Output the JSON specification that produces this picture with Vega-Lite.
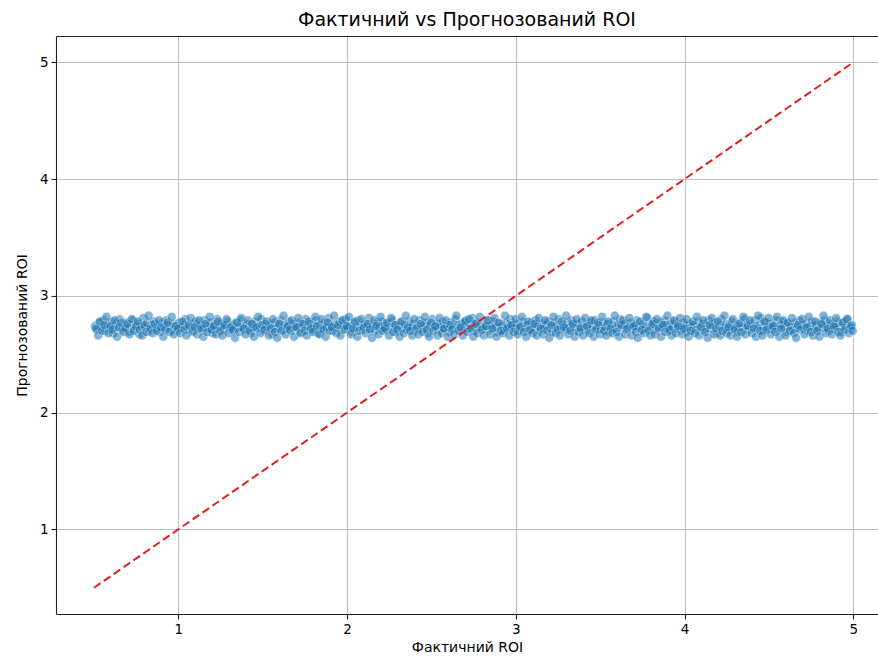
{
"$schema": "https://vega.github.io/schema/vega-lite/v6.json",
"width": 822, "height": 578,
"autosize": {"type": "none"},
"padding": {"left": 56, "top": 36, "right": 0, "bottom": 45},
"background": "white",
"title": {"text": "Фактичний vs Прогнозований ROI", "font": "DejaVu Sans", "fontSize": 19, "fontWeight": "normal", "color": "black", "offset": 6, "anchor": "middle"},
"config": {
  "view": {"stroke": null},
  "axis": {"labelFont": "DejaVu Sans", "titleFont": "DejaVu Sans", "labelFontSize": 13.5, "titleFontSize": 14, "titleFontWeight": "normal", "labelColor": "black", "titleColor": "black", "domainColor": "#222222", "domainWidth": 1.1, "tickColor": "#222222", "tickSize": 5, "tickWidth": 1.1, "gridColor": "#b8b8b8", "gridWidth": 0.9, "labelPadding": 3}
},
"datasets": {"pts": [
{"x":0.505,"y":2.74},{"x":0.518,"y":2.71},{"x":0.531,"y":2.77},{"x":0.540,"y":2.73},{"x":0.556,"y":2.79},{"x":0.568,"y":2.70},{"x":0.579,"y":2.75},{"x":0.594,"y":2.72},{"x":0.607,"y":2.78},{"x":0.615,"y":2.68},
{"x":0.630,"y":2.76},{"x":0.644,"y":2.73},{"x":0.652,"y":2.80},{"x":0.669,"y":2.71},{"x":0.681,"y":2.75},{"x":0.690,"y":2.77},{"x":0.706,"y":2.69},{"x":0.718,"y":2.74},{"x":0.731,"y":2.79},{"x":0.740,"y":2.72},
{"x":0.757,"y":2.76},{"x":0.769,"y":2.67},{"x":0.778,"y":2.74},{"x":0.793,"y":2.81},{"x":0.806,"y":2.73},{"x":0.815,"y":2.77},{"x":0.830,"y":2.70},{"x":0.842,"y":2.75},{"x":0.855,"y":2.78},{"x":0.867,"y":2.72},
{"x":0.879,"y":2.74},{"x":0.891,"y":2.69},{"x":0.905,"y":2.77},{"x":0.917,"y":2.73},{"x":0.929,"y":2.79},{"x":0.940,"y":2.75},{"x":0.956,"y":2.71},{"x":0.968,"y":2.76},{"x":0.977,"y":2.74},{"x":0.993,"y":2.70},
{"x":1.005,"y":2.77},{"x":1.018,"y":2.73},{"x":1.030,"y":2.75},{"x":1.042,"y":2.80},{"x":1.055,"y":2.72},{"x":1.066,"y":2.74},{"x":1.081,"y":2.69},{"x":1.093,"y":2.76},{"x":1.104,"y":2.78},{"x":1.117,"y":2.73},
{"x":1.130,"y":2.75},{"x":1.141,"y":2.71},{"x":1.156,"y":2.79},{"x":1.168,"y":2.74},{"x":1.179,"y":2.72},{"x":1.193,"y":2.77},{"x":1.204,"y":2.68},{"x":1.216,"y":2.75},{"x":1.230,"y":2.80},{"x":1.242,"y":2.73},
{"x":1.255,"y":2.76},{"x":1.267,"y":2.71},{"x":1.278,"y":2.74},{"x":1.292,"y":2.78},{"x":1.305,"y":2.72},{"x":1.317,"y":2.75},{"x":1.329,"y":2.70},{"x":1.341,"y":2.77},{"x":1.356,"y":2.73},{"x":1.368,"y":2.79},
{"x":1.380,"y":2.74},{"x":1.391,"y":2.71},{"x":1.405,"y":2.76},{"x":1.418,"y":2.73},{"x":1.430,"y":2.68},{"x":1.443,"y":2.75},{"x":1.455,"y":2.78},{"x":1.466,"y":2.72},{"x":1.480,"y":2.74},{"x":1.492,"y":2.80},
{"x":1.505,"y":2.70},{"x":1.517,"y":2.76},{"x":1.529,"y":2.73},{"x":1.541,"y":2.75},{"x":1.556,"y":2.67},{"x":1.568,"y":2.77},{"x":1.579,"y":2.72},{"x":1.593,"y":2.74},{"x":1.606,"y":2.79},{"x":1.618,"y":2.71},
{"x":1.630,"y":2.75},{"x":1.642,"y":2.73},{"x":1.655,"y":2.78},{"x":1.667,"y":2.70},{"x":1.680,"y":2.76},{"x":1.691,"y":2.74},{"x":1.705,"y":2.72},{"x":1.718,"y":2.77},{"x":1.729,"y":2.69},{"x":1.743,"y":2.75},
{"x":1.755,"y":2.80},{"x":1.766,"y":2.73},{"x":1.780,"y":2.76},{"x":1.792,"y":2.71},{"x":1.805,"y":2.74},{"x":1.817,"y":2.79},{"x":1.830,"y":2.68},{"x":1.842,"y":2.75},{"x":1.855,"y":2.72},{"x":1.867,"y":2.77},
{"x":1.879,"y":2.73},{"x":1.891,"y":2.81},{"x":1.905,"y":2.74},{"x":1.917,"y":2.70},{"x":1.929,"y":2.76},{"x":1.942,"y":2.73},{"x":1.955,"y":2.78},{"x":1.967,"y":2.71},{"x":1.980,"y":2.75},{"x":1.991,"y":2.80},
{"x":2.005,"y":2.72},{"x":2.018,"y":2.74},{"x":2.030,"y":2.69},{"x":2.042,"y":2.77},{"x":2.055,"y":2.73},{"x":2.067,"y":2.79},{"x":2.080,"y":2.75},{"x":2.093,"y":2.71},{"x":2.104,"y":2.76},{"x":2.117,"y":2.74},
{"x":2.130,"y":2.81},{"x":2.142,"y":2.72},{"x":2.155,"y":2.75},{"x":2.166,"y":2.70},{"x":2.180,"y":2.77},{"x":2.192,"y":2.73},{"x":2.205,"y":2.78},{"x":2.217,"y":2.74},{"x":2.230,"y":2.71},{"x":2.242,"y":2.76},
{"x":2.255,"y":2.72},{"x":2.267,"y":2.79},{"x":2.280,"y":2.75},{"x":2.292,"y":2.69},{"x":2.305,"y":2.74},{"x":2.317,"y":2.77},{"x":2.330,"y":2.72},{"x":2.342,"y":2.75},{"x":2.355,"y":2.71},{"x":2.367,"y":2.78},
{"x":2.380,"y":2.73},{"x":2.391,"y":2.76},{"x":2.405,"y":2.70},{"x":2.418,"y":2.74},{"x":2.430,"y":2.79},{"x":2.442,"y":2.72},{"x":2.455,"y":2.75},{"x":2.467,"y":2.77},{"x":2.480,"y":2.68},{"x":2.492,"y":2.74},
{"x":2.505,"y":2.80},{"x":2.517,"y":2.73},{"x":2.530,"y":2.76},{"x":2.542,"y":2.71},{"x":2.555,"y":2.75},{"x":2.567,"y":2.78},{"x":2.580,"y":2.72},{"x":2.592,"y":2.74},{"x":2.605,"y":2.69},{"x":2.617,"y":2.77},
{"x":2.630,"y":2.73},{"x":2.642,"y":2.80},{"x":2.655,"y":2.75},{"x":2.667,"y":2.71},{"x":2.680,"y":2.76},{"x":2.692,"y":2.74},{"x":2.705,"y":2.79},{"x":2.717,"y":2.72},{"x":2.730,"y":2.75},{"x":2.742,"y":2.81},
{"x":2.755,"y":2.70},{"x":2.767,"y":2.77},{"x":2.780,"y":2.73},{"x":2.792,"y":2.76},{"x":2.805,"y":2.72},{"x":2.817,"y":2.74},{"x":2.830,"y":2.79},{"x":2.842,"y":2.71},{"x":2.855,"y":2.75},{"x":2.867,"y":2.78},
{"x":2.880,"y":2.73},{"x":2.892,"y":2.69},{"x":2.905,"y":2.76},{"x":2.917,"y":2.74},{"x":2.930,"y":2.71},{"x":2.942,"y":2.77},{"x":2.955,"y":2.73},{"x":2.967,"y":2.80},{"x":2.980,"y":2.75},{"x":2.992,"y":2.72},
{"x":3.005,"y":2.76},{"x":3.017,"y":2.70},{"x":3.030,"y":2.74},{"x":3.042,"y":2.78},{"x":3.055,"y":2.72},{"x":3.067,"y":2.75},{"x":3.080,"y":2.71},{"x":3.092,"y":2.77},{"x":3.105,"y":2.73},{"x":3.117,"y":2.79},
{"x":3.130,"y":2.74},{"x":3.142,"y":2.70},{"x":3.155,"y":2.76},{"x":3.167,"y":2.72},{"x":3.180,"y":2.75},{"x":3.192,"y":2.78},{"x":3.205,"y":2.73},{"x":3.217,"y":2.69},{"x":3.230,"y":2.77},{"x":3.242,"y":2.74},
{"x":3.255,"y":2.80},{"x":3.267,"y":2.72},{"x":3.280,"y":2.75},{"x":3.292,"y":2.71},{"x":3.305,"y":2.77},{"x":3.317,"y":2.73},{"x":3.330,"y":2.79},{"x":3.342,"y":2.74},{"x":3.355,"y":2.71},{"x":3.367,"y":2.76},
{"x":3.380,"y":2.73},{"x":3.392,"y":2.78},{"x":3.405,"y":2.72},{"x":3.417,"y":2.75},{"x":3.430,"y":2.70},{"x":3.442,"y":2.77},{"x":3.455,"y":2.74},{"x":3.467,"y":2.79},{"x":3.480,"y":2.72},{"x":3.492,"y":2.75},
{"x":3.505,"y":2.71},{"x":3.517,"y":2.77},{"x":3.530,"y":2.73},{"x":3.542,"y":2.76},{"x":3.555,"y":2.69},{"x":3.567,"y":2.74},{"x":3.580,"y":2.78},{"x":3.592,"y":2.72},{"x":3.605,"y":2.75},{"x":3.617,"y":2.80},
{"x":3.630,"y":2.73},{"x":3.642,"y":2.76},{"x":3.655,"y":2.71},{"x":3.667,"y":2.74},{"x":3.680,"y":2.77},{"x":3.692,"y":2.72},{"x":3.705,"y":2.75},{"x":3.717,"y":2.79},{"x":3.730,"y":2.73},{"x":3.742,"y":2.70},
{"x":3.755,"y":2.76},{"x":3.767,"y":2.74},{"x":3.780,"y":2.81},{"x":3.792,"y":2.72},{"x":3.805,"y":2.75},{"x":3.817,"y":2.78},{"x":3.830,"y":2.71},{"x":3.842,"y":2.74},{"x":3.855,"y":2.77},{"x":3.867,"y":2.73},
{"x":3.880,"y":2.79},{"x":3.892,"y":2.75},{"x":3.905,"y":2.70},{"x":3.917,"y":2.76},{"x":3.930,"y":2.73},{"x":3.942,"y":2.78},{"x":3.955,"y":2.72},{"x":3.967,"y":2.75},{"x":3.980,"y":2.71},{"x":3.992,"y":2.77},
{"x":4.005,"y":2.74},{"x":4.017,"y":2.69},{"x":4.030,"y":2.76},{"x":4.042,"y":2.73},{"x":4.055,"y":2.75},{"x":4.067,"y":2.71},{"x":4.080,"y":2.78},{"x":4.092,"y":2.73},{"x":4.105,"y":2.76},{"x":4.117,"y":2.70},
{"x":4.130,"y":2.74},{"x":4.142,"y":2.79},{"x":4.155,"y":2.72},{"x":4.167,"y":2.75},{"x":4.180,"y":2.77},{"x":4.192,"y":2.68},{"x":4.205,"y":2.74},{"x":4.217,"y":2.80},{"x":4.230,"y":2.73},{"x":4.242,"y":2.76},
{"x":4.255,"y":2.71},{"x":4.267,"y":2.75},{"x":4.280,"y":2.78},{"x":4.292,"y":2.72},{"x":4.305,"y":2.74},{"x":4.317,"y":2.69},{"x":4.330,"y":2.77},{"x":4.342,"y":2.73},{"x":4.355,"y":2.80},{"x":4.367,"y":2.75},
{"x":4.380,"y":2.71},{"x":4.392,"y":2.76},{"x":4.405,"y":2.74},{"x":4.417,"y":2.79},{"x":4.430,"y":2.72},{"x":4.442,"y":2.75},{"x":4.455,"y":2.81},{"x":4.467,"y":2.70},{"x":4.480,"y":2.77},{"x":4.492,"y":2.73},
{"x":4.505,"y":2.76},{"x":4.517,"y":2.72},{"x":4.530,"y":2.74},{"x":4.542,"y":2.79},{"x":4.555,"y":2.71},{"x":4.567,"y":2.75},{"x":4.580,"y":2.78},{"x":4.592,"y":2.73},{"x":4.605,"y":2.69},{"x":4.617,"y":2.76},
{"x":4.630,"y":2.74},{"x":4.642,"y":2.71},{"x":4.655,"y":2.77},{"x":4.667,"y":2.73},{"x":4.680,"y":2.79},{"x":4.692,"y":2.75},{"x":4.705,"y":2.72},{"x":4.717,"y":2.76},{"x":4.730,"y":2.70},{"x":4.742,"y":2.74},
{"x":4.755,"y":2.78},{"x":4.767,"y":2.72},{"x":4.780,"y":2.75},{"x":4.792,"y":2.71},{"x":4.805,"y":2.77},{"x":4.817,"y":2.73},{"x":4.830,"y":2.79},{"x":4.842,"y":2.74},{"x":4.855,"y":2.70},{"x":4.867,"y":2.76},
{"x":4.880,"y":2.72},{"x":4.892,"y":2.75},{"x":4.905,"y":2.78},{"x":4.917,"y":2.73},{"x":4.930,"y":2.69},{"x":4.942,"y":2.77},{"x":4.955,"y":2.74},{"x":4.967,"y":2.80},{"x":4.980,"y":2.72},{"x":4.992,"y":2.75},
{"x":0.512,"y":2.72},{"x":0.525,"y":2.66},{"x":0.536,"y":2.78},{"x":0.549,"y":2.70},{"x":0.562,"y":2.75},{"x":0.574,"y":2.82},{"x":0.587,"y":2.68},{"x":0.599,"y":2.74},{"x":0.611,"y":2.71},{"x":0.623,"y":2.79},
{"x":0.637,"y":2.65},{"x":0.648,"y":2.73},{"x":0.661,"y":2.77},{"x":0.674,"y":2.69},{"x":0.686,"y":2.72},{"x":0.699,"y":2.76},{"x":0.711,"y":2.67},{"x":0.723,"y":2.80},{"x":0.736,"y":2.70},{"x":0.749,"y":2.74},
{"x":0.761,"y":2.78},{"x":0.773,"y":2.71},{"x":0.786,"y":2.66},{"x":0.799,"y":2.75},{"x":0.811,"y":2.69},{"x":0.824,"y":2.83},{"x":0.836,"y":2.72},{"x":0.848,"y":2.68},{"x":0.861,"y":2.76},{"x":0.873,"y":2.70},
{"x":0.886,"y":2.79},{"x":0.898,"y":2.73},{"x":0.911,"y":2.65},{"x":0.923,"y":2.71},{"x":0.936,"y":2.77},{"x":0.948,"y":2.69},{"x":0.961,"y":2.82},{"x":0.973,"y":2.67},{"x":0.986,"y":2.74},{"x":0.998,"y":2.72},
{"x":1.011,"y":2.68},{"x":1.023,"y":2.78},{"x":1.036,"y":2.71},{"x":1.048,"y":2.66},{"x":1.061,"y":2.75},{"x":1.073,"y":2.81},{"x":1.086,"y":2.70},{"x":1.098,"y":2.73},{"x":1.111,"y":2.67},{"x":1.123,"y":2.79},
{"x":1.136,"y":2.72},{"x":1.148,"y":2.65},{"x":1.161,"y":2.76},{"x":1.173,"y":2.69},{"x":1.186,"y":2.82},{"x":1.198,"y":2.71},{"x":1.211,"y":2.74},{"x":1.223,"y":2.67},{"x":1.236,"y":2.78},{"x":1.248,"y":2.70},
{"x":1.261,"y":2.66},{"x":1.273,"y":2.75},{"x":1.286,"y":2.80},{"x":1.298,"y":2.68},{"x":1.311,"y":2.73},{"x":1.323,"y":2.71},{"x":1.336,"y":2.64},{"x":1.348,"y":2.77},{"x":1.361,"y":2.69},{"x":1.373,"y":2.81},
{"x":1.386,"y":2.72},{"x":1.398,"y":2.67},{"x":1.411,"y":2.79},{"x":1.423,"y":2.70},{"x":1.436,"y":2.76},{"x":1.448,"y":2.65},{"x":1.461,"y":2.73},{"x":1.473,"y":2.82},{"x":1.486,"y":2.68},{"x":1.498,"y":2.75},
{"x":1.511,"y":2.71},{"x":1.523,"y":2.78},{"x":1.536,"y":2.66},{"x":1.548,"y":2.72},{"x":1.561,"y":2.80},{"x":1.573,"y":2.69},{"x":1.586,"y":2.64},{"x":1.598,"y":2.76},{"x":1.611,"y":2.70},{"x":1.623,"y":2.83},
{"x":1.636,"y":2.67},{"x":1.648,"y":2.74},{"x":1.661,"y":2.71},{"x":1.673,"y":2.79},{"x":1.686,"y":2.65},{"x":1.698,"y":2.73},{"x":1.711,"y":2.81},{"x":1.723,"y":2.68},{"x":1.736,"y":2.76},{"x":1.748,"y":2.70},
{"x":1.761,"y":2.66},{"x":1.773,"y":2.78},{"x":1.786,"y":2.72},{"x":1.798,"y":2.69},{"x":1.811,"y":2.82},{"x":1.823,"y":2.74},{"x":1.836,"y":2.67},{"x":1.848,"y":2.80},{"x":1.861,"y":2.71},{"x":1.873,"y":2.65},
{"x":1.886,"y":2.77},{"x":1.898,"y":2.70},{"x":1.911,"y":2.73},{"x":1.923,"y":2.83},{"x":1.936,"y":2.68},{"x":1.948,"y":2.75},{"x":1.961,"y":2.66},{"x":1.973,"y":2.79},{"x":1.986,"y":2.71},{"x":1.998,"y":2.74},
{"x":2.011,"y":2.82},{"x":2.023,"y":2.67},{"x":2.036,"y":2.72},{"x":2.048,"y":2.78},{"x":2.061,"y":2.65},{"x":2.073,"y":2.70},{"x":2.086,"y":2.80},{"x":2.098,"y":2.73},{"x":2.111,"y":2.68},{"x":2.123,"y":2.76},
{"x":2.136,"y":2.71},{"x":2.148,"y":2.64},{"x":2.161,"y":2.79},{"x":2.173,"y":2.74},{"x":2.186,"y":2.67},{"x":2.198,"y":2.82},{"x":2.211,"y":2.70},{"x":2.223,"y":2.72},{"x":2.236,"y":2.77},{"x":2.248,"y":2.66},
{"x":2.261,"y":2.81},{"x":2.273,"y":2.69},{"x":2.286,"y":2.75},{"x":2.298,"y":2.71},{"x":2.311,"y":2.65},{"x":2.323,"y":2.78},{"x":2.336,"y":2.68},{"x":2.348,"y":2.83},{"x":2.361,"y":2.73},{"x":2.373,"y":2.70},
{"x":2.386,"y":2.66},{"x":2.398,"y":2.80},{"x":2.411,"y":2.72},{"x":2.423,"y":2.67},{"x":2.436,"y":2.76},{"x":2.448,"y":2.69},{"x":2.461,"y":2.82},{"x":2.473,"y":2.71},{"x":2.486,"y":2.65},{"x":2.498,"y":2.77},
{"x":2.511,"y":2.70},{"x":2.523,"y":2.74},{"x":2.536,"y":2.66},{"x":2.548,"y":2.81},{"x":2.561,"y":2.68},{"x":2.573,"y":2.72},{"x":2.586,"y":2.79},{"x":2.598,"y":2.65},{"x":2.611,"y":2.75},{"x":2.623,"y":2.71},
{"x":2.636,"y":2.67},{"x":2.648,"y":2.83},{"x":2.661,"y":2.70},{"x":2.673,"y":2.73},{"x":2.686,"y":2.66},{"x":2.698,"y":2.78},{"x":2.711,"y":2.69},{"x":2.723,"y":2.80},{"x":2.736,"y":2.72},{"x":2.748,"y":2.65},
{"x":2.761,"y":2.76},{"x":2.773,"y":2.68},{"x":2.786,"y":2.82},{"x":2.798,"y":2.71},{"x":2.811,"y":2.66},{"x":2.823,"y":2.74},{"x":2.836,"y":2.79},{"x":2.848,"y":2.67},{"x":2.861,"y":2.72},{"x":2.873,"y":2.81},
{"x":2.886,"y":2.65},{"x":2.898,"y":2.77},{"x":2.911,"y":2.70},{"x":2.923,"y":2.68},{"x":2.936,"y":2.83},{"x":2.948,"y":2.72},{"x":2.961,"y":2.66},{"x":2.973,"y":2.75},{"x":2.986,"y":2.69},{"x":2.998,"y":2.80},
{"x":3.011,"y":2.67},{"x":3.023,"y":2.73},{"x":3.036,"y":2.82},{"x":3.048,"y":2.69},{"x":3.061,"y":2.65},{"x":3.073,"y":2.78},{"x":3.086,"y":2.71},{"x":3.098,"y":2.68},{"x":3.111,"y":2.76},{"x":3.123,"y":2.66},
{"x":3.136,"y":2.81},{"x":3.148,"y":2.72},{"x":3.161,"y":2.67},{"x":3.173,"y":2.79},{"x":3.186,"y":2.70},{"x":3.198,"y":2.64},{"x":3.211,"y":2.75},{"x":3.223,"y":2.82},{"x":3.236,"y":2.68},{"x":3.248,"y":2.71},
{"x":3.261,"y":2.66},{"x":3.273,"y":2.78},{"x":3.286,"y":2.73},{"x":3.298,"y":2.83},{"x":3.311,"y":2.67},{"x":3.323,"y":2.70},{"x":3.336,"y":2.76},{"x":3.348,"y":2.65},{"x":3.361,"y":2.80},{"x":3.373,"y":2.69},
{"x":3.386,"y":2.72},{"x":3.398,"y":2.66},{"x":3.411,"y":2.81},{"x":3.423,"y":2.74},{"x":3.436,"y":2.68},{"x":3.448,"y":2.79},{"x":3.461,"y":2.65},{"x":3.473,"y":2.71},{"x":3.486,"y":2.77},{"x":3.498,"y":2.67},
{"x":3.511,"y":2.82},{"x":3.523,"y":2.70},{"x":3.536,"y":2.66},{"x":3.548,"y":2.78},{"x":3.561,"y":2.72},{"x":3.573,"y":2.68},{"x":3.586,"y":2.83},{"x":3.598,"y":2.69},{"x":3.611,"y":2.65},{"x":3.623,"y":2.75},
{"x":3.636,"y":2.79},{"x":3.648,"y":2.67},{"x":3.661,"y":2.72},{"x":3.673,"y":2.81},{"x":3.686,"y":2.66},{"x":3.698,"y":2.74},{"x":3.711,"y":2.69},{"x":3.723,"y":2.64},{"x":3.736,"y":2.78},{"x":3.748,"y":2.71},
{"x":3.761,"y":2.68},{"x":3.773,"y":2.82},{"x":3.786,"y":2.70},{"x":3.798,"y":2.66},{"x":3.811,"y":2.76},{"x":3.823,"y":2.67},{"x":3.836,"y":2.80},{"x":3.848,"y":2.72},{"x":3.861,"y":2.65},{"x":3.873,"y":2.75},
{"x":3.886,"y":2.69},{"x":3.898,"y":2.83},{"x":3.911,"y":2.71},{"x":3.923,"y":2.66},{"x":3.936,"y":2.79},{"x":3.948,"y":2.68},{"x":3.961,"y":2.74},{"x":3.973,"y":2.81},{"x":3.986,"y":2.67},{"x":3.998,"y":2.72},
{"x":4.011,"y":2.80},{"x":4.023,"y":2.65},{"x":4.036,"y":2.70},{"x":4.048,"y":2.78},{"x":4.061,"y":2.68},{"x":4.073,"y":2.82},{"x":4.086,"y":2.66},{"x":4.098,"y":2.73},{"x":4.111,"y":2.79},{"x":4.123,"y":2.69},
{"x":4.136,"y":2.64},{"x":4.148,"y":2.75},{"x":4.161,"y":2.81},{"x":4.173,"y":2.67},{"x":4.186,"y":2.72},{"x":4.198,"y":2.78},{"x":4.211,"y":2.66},{"x":4.223,"y":2.70},{"x":4.236,"y":2.83},{"x":4.248,"y":2.68},
{"x":4.261,"y":2.73},{"x":4.273,"y":2.66},{"x":4.286,"y":2.80},{"x":4.298,"y":2.71},{"x":4.311,"y":2.65},{"x":4.323,"y":2.76},{"x":4.336,"y":2.69},{"x":4.348,"y":2.82},{"x":4.361,"y":2.67},{"x":4.373,"y":2.74},
{"x":4.386,"y":2.79},{"x":4.398,"y":2.68},{"x":4.411,"y":2.72},{"x":4.423,"y":2.65},{"x":4.436,"y":2.83},{"x":4.448,"y":2.70},{"x":4.461,"y":2.66},{"x":4.473,"y":2.78},{"x":4.486,"y":2.71},{"x":4.498,"y":2.81},
{"x":4.511,"y":2.67},{"x":4.523,"y":2.74},{"x":4.536,"y":2.69},{"x":4.548,"y":2.82},{"x":4.561,"y":2.65},{"x":4.573,"y":2.72},{"x":4.586,"y":2.79},{"x":4.598,"y":2.66},{"x":4.611,"y":2.77},{"x":4.623,"y":2.70},
{"x":4.636,"y":2.81},{"x":4.648,"y":2.68},{"x":4.661,"y":2.64},{"x":4.673,"y":2.75},{"x":4.686,"y":2.71},{"x":4.698,"y":2.80},{"x":4.711,"y":2.67},{"x":4.723,"y":2.73},{"x":4.736,"y":2.82},{"x":4.748,"y":2.69},
{"x":4.761,"y":2.66},{"x":4.773,"y":2.78},{"x":4.786,"y":2.70},{"x":4.798,"y":2.65},{"x":4.811,"y":2.76},{"x":4.823,"y":2.83},{"x":4.836,"y":2.68},{"x":4.848,"y":2.72},{"x":4.861,"y":2.79},{"x":4.873,"y":2.67},
{"x":4.886,"y":2.74},{"x":4.898,"y":2.81},{"x":4.911,"y":2.69},{"x":4.923,"y":2.66},{"x":4.936,"y":2.77},{"x":4.948,"y":2.71},{"x":4.961,"y":2.80},{"x":4.973,"y":2.68},{"x":4.986,"y":2.74},{"x":4.996,"y":2.70}
],
"diag": [{"x": 0.5, "y": 0.5}, {"x": 5, "y": 5}]},
"resolve": {"axis": {"x": "independent"}},
"layer": [
  {
    "data": {"name": "pts"},
    "mark": {"type": "circle", "size": 85, "color": "#1f77b4", "opacity": 0.55, "stroke": "white", "strokeWidth": 0.8, "strokeOpacity": 0.8},
    "encoding": {
      "x": {"field": "x", "type": "quantitative", "scale": {"domain": [0.275, 5.146], "nice": false, "zero": false},
            "axis": {"title": "Фактичний ROI", "values": [1, 2, 3, 4, 5], "format": "d", "grid": true, "titlePadding": 5}},
      "y": {"field": "y", "type": "quantitative", "scale": {"domain": [0.275, 5.225], "nice": false, "zero": false},
            "axis": {"title": "Прогнозований ROI", "values": [1, 2, 3, 4, 5], "format": "d", "grid": true, "titlePadding": 10}}
    }
  },
  {
    "data": {"name": "diag"},
    "mark": {"type": "line", "color": "#e02020", "strokeDash": [8, 4], "strokeWidth": 2},
    "encoding": {
      "x": {"field": "x", "type": "quantitative", "axis": {"orient": "top", "labels": false, "ticks": false, "grid": false, "title": null, "domain": true}},
      "y": {"field": "y", "type": "quantitative"}
    }
  }
]
}
